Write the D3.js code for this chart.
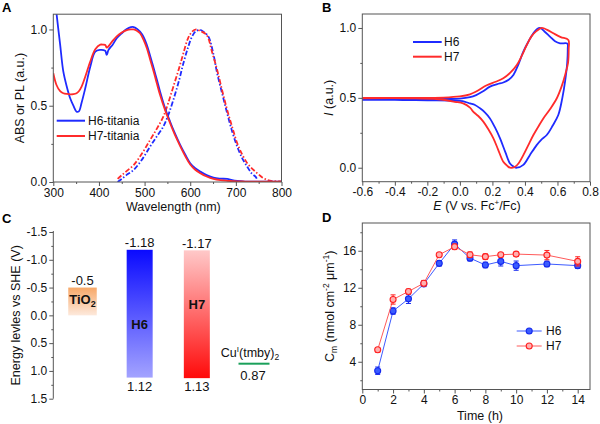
<!DOCTYPE html>
<html><head><meta charset="utf-8">
<script src="https://cdn.jsdelivr.net/npm/d3@7/dist/d3.min.js"></script>
<style>
html,body{margin:0;padding:0;background:#fff;}
svg{display:block;font-family:"Liberation Sans",Arial,sans-serif;}
</style></head>
<body>
<svg id="chart" width="600" height="424"></svg>
<script>
// ---------------- DATA ----------------
// Panel A: absorption (solid) and PL (dash-dot)
const absWl = [300,307,315,322,330,337,344,351,356,362,370,381,392,403,410,414,417,421,430,439,450,461,470,476,483,490,498,505,512,520,527,534,545,556,567,578,589,600,611,622,636,651,666,681,692,703,720,750,800];
const absH6 = [1.3,1.106,0.9,0.723,0.62,0.549,0.5,0.461,0.463,0.52,0.614,0.756,0.854,0.866,0.865,0.859,0.833,0.866,0.9,0.942,0.975,1.003,1.015,1.016,1.005,0.986,0.95,0.898,0.83,0.745,0.67,0.592,0.483,0.395,0.315,0.243,0.18,0.123,0.09,0.068,0.045,0.028,0.022,0.02,0.012,0.007,0.003,0.002,0.002];
const absH7 = [0.713,0.636,0.595,0.582,0.577,0.575,0.576,0.582,0.595,0.625,0.69,0.79,0.87,0.9,0.9,0.898,0.881,0.89,0.925,0.955,0.98,0.995,1.0,1.0,0.992,0.975,0.93,0.877,0.805,0.723,0.645,0.57,0.47,0.385,0.305,0.235,0.17,0.115,0.08,0.058,0.036,0.02,0.012,0.008,0.006,0.004,0.003,0.002,0.002];
const plWlH6 = [441,450,460,476,495,512,527,541,552,563,575,585,595,604,613,622,631,640,650,659,670,681,692,703,714,725,735,743,748];
const plH6   = [0,0.02,0.045,0.079,0.15,0.232,0.3,0.363,0.44,0.538,0.66,0.778,0.88,0.953,0.99,0.997,0.98,0.953,0.85,0.713,0.58,0.45,0.33,0.232,0.155,0.1,0.055,0.035,0.01];
const plWlH7 = [441,450,460,476,495,512,527,541,552,563,575,585,595,604,613,622,636,648,659,670,681,692,703,714,725,735,747,758,769,780,800];
const plH7   = [0.02,0.045,0.07,0.111,0.19,0.275,0.35,0.428,0.52,0.625,0.74,0.844,0.94,0.985,1.0,0.99,0.964,0.85,0.735,0.6,0.472,0.36,0.254,0.18,0.123,0.09,0.057,0.03,0.013,0.006,0.004];
const aLegend = ["H6-titania","H7-titania"];
const aXTicks = [300,400,500,600,700,800];
const aYTicks = [0,0.5,1.0];

// Panel B: cyclic voltammograms (E, I) in scan order
const cvH6E = [-0.6,-0.4,-0.2,0.0,0.062,0.1,0.14,0.185,0.23,0.267,0.3,0.329,0.36,0.39,0.42,0.452,0.475,0.493,0.52,0.554,0.585,0.616,0.661,0.663,0.66,0.647,0.63,0.605,0.57,0.534,0.5,0.472,0.43,0.39,0.35,0.33,0.308,0.28,0.247,0.215,0.185,0.155,0.124,0.093,0.062,0.032,0.0,-0.2,-0.4,-0.6];
const cvH6I = [0.49,0.49,0.492,0.495,0.505,0.52,0.545,0.58,0.598,0.61,0.63,0.664,0.74,0.83,0.9,0.962,0.993,1.0,0.975,0.938,0.905,0.89,0.888,0.85,0.75,0.62,0.5,0.377,0.3,0.234,0.2,0.162,0.09,0.02,0.0,0.008,0.03,0.11,0.21,0.29,0.353,0.395,0.425,0.449,0.46,0.472,0.478,0.483,0.485,0.485];
const cvH7E = [-0.6,-0.3,-0.1,0.0,0.062,0.1,0.165,0.22,0.267,0.31,0.35,0.38,0.411,0.44,0.472,0.503,0.54,0.575,0.62,0.667,0.669,0.665,0.647,0.625,0.596,0.555,0.513,0.48,0.452,0.42,0.39,0.36,0.339,0.308,0.29,0.267,0.235,0.206,0.175,0.144,0.113,0.083,0.062,0.02,-0.03,-0.133,-0.3,-0.6];
const cvH7I = [0.5,0.5,0.502,0.51,0.525,0.545,0.59,0.615,0.64,0.68,0.735,0.8,0.878,0.94,0.979,1.0,0.985,0.962,0.935,0.914,0.85,0.75,0.664,0.58,0.497,0.42,0.353,0.29,0.234,0.16,0.09,0.03,0.007,0.0,0.015,0.043,0.13,0.21,0.275,0.33,0.37,0.40,0.43,0.46,0.472,0.49,0.497,0.497];
const bLegend = ["H6","H7"];
const bXTicks = [-0.6,-0.4,-0.2,0.0,0.2,0.4,0.6,0.8];
const bYTicks = [0,0.5,1.0];

// Panel C: energy levels (V vs SHE)
const cCats   = ["TiO2","H6","H7","Cu"];
const cTop    = [-0.5,-1.18,-1.17];
const cBottom = [0.0,1.12,1.13];
const cuLevel = 0.87;
const cYTicks = [-1.5,-1.0,-0.5,0.0,0.5,1.0,1.5];

// Panel D: dye loading vs time
const dTime = [1,2,3,4,5,6,7,8,9,10,12,14];
const dH6   = [3.03,9.48,10.8,12.42,14.64,16.72,15.2,14.46,14.85,14.39,14.57,14.39];
const dH6e  = [0.4,0.35,0.5,0.3,0.3,0.45,0.3,0.3,0.5,0.5,0.3,0.3];
const dH7   = [5.29,10.73,11.6,12.49,15.57,16.43,15.57,15.36,15.57,15.64,15.53,14.85];
const dH7e  = [0.25,0.5,0.25,0.3,0.2,0.3,0.3,0.3,0.2,0.25,0.5,0.5];
const dXTicks = [0,2,4,6,8,10,12,14];
const dYTicks = [4,8,12,16];

// ---------------- DRAWING ----------------
const svg = d3.select("#chart");
const BLUE = "#1f2bff", RED = "#ff2b2b";
const AX = "#555", TXT = "#111";
const fmt1 = d => (Math.abs(d) < 1e-9 ? 0 : d).toFixed(1);

function drawAxis(g, axisGen, majors, minors, fmt) {
  const a = g.append("g");
  a.call(axisGen.tickValues(minors).tickSize(2).tickFormat(""));
  a.select(".domain").remove();
  a.selectAll("line").attr("stroke", AX);
  const b = g.append("g");
  b.call(axisGen.tickValues(majors).tickSize(4).tickPadding(2).tickFormat(fmt));
  b.select(".domain").remove();
  b.selectAll("line").attr("stroke", AX);
  b.selectAll("text").attr("font-size", 12).attr("fill", TXT).attr("font-family", "Liberation Sans, Arial, sans-serif");
}
function range(a, b, s) { const r = []; for (let v = a; v <= b + 1e-9; v += s) r.push(+v.toFixed(6)); return r; }
function box(x0, x1, y0, y1) {
  svg.append("rect").attr("x", x0).attr("y", y1).attr("width", x1 - x0).attr("height", y0 - y1)
    .attr("fill", "none").attr("stroke", AX).attr("stroke-width", 1);
}
function panelLetter(t, x, y) {
  svg.append("text").attr("x", x).attr("y", y).attr("font-size", 13).attr("font-weight", "bold").attr("fill", "#000").text(t);
}

// ===== Panel A =====
{
  const x = d3.scaleLinear().domain([300, 800]).range([53.3, 281.5]);
  const y = d3.scaleLinear().domain([0, 1.1]).range([182, 14.2]);
  const defs = svg.append("defs");
  defs.append("clipPath").attr("id", "clipA").append("rect")
    .attr("x", x(300)).attr("y", y(1.1)).attr("width", x(800) - x(300)).attr("height", y(0) - y(1.1));
  const g = svg.append("g");
  const line = d3.line().x(d => x(d[0])).y(d => y(d[1])).curve(d3.curveCatmullRom);
  const pg = g.append("g").attr("clip-path", "url(#clipA)");
  const plDash = "5,2,1.5,2";
  pg.append("path").datum(plWlH6.map((w, i) => [w, plH6[i]])).attr("d", line)
    .attr("fill", "none").attr("stroke", BLUE).attr("stroke-width", 1.8).attr("stroke-dasharray", plDash);
  pg.append("path").datum(plWlH7.map((w, i) => [w, plH7[i]])).attr("d", line)
    .attr("fill", "none").attr("stroke", RED).attr("stroke-width", 1.8).attr("stroke-dasharray", plDash);
  pg.append("path").datum(absWl.map((w, i) => [w, absH6[i]])).attr("d", line)
    .attr("fill", "none").attr("stroke", BLUE).attr("stroke-width", 1.8);
  pg.append("path").datum(absWl.map((w, i) => [w, absH7[i]])).attr("d", line)
    .attr("fill", "none").attr("stroke", RED).attr("stroke-width", 1.8);
  box(x(300), x(800), y(0), y(1.1));
  drawAxis(g.append("g").attr("transform", `translate(0,${y(0)})`), d3.axisBottom(x), aXTicks, range(350, 750, 100), d => d);
  drawAxis(g.append("g").attr("transform", `translate(${x(300)},0)`), d3.axisLeft(y), aYTicks, range(0.25, 1.0, 0.5), fmt1);
  svg.append("text").attr("x", (x(300) + x(800)) / 2 + 6).attr("y", 211).attr("text-anchor", "middle")
    .attr("font-size", 12.5).attr("fill", TXT).text("Wavelength (nm)");
  svg.append("text").attr("transform", `translate(24,${(y(0) + y(1.1)) / 2}) rotate(-90)`).attr("text-anchor", "middle")
    .attr("font-size", 12.5).attr("fill", TXT).text("ABS or PL (a.u.)");
  const cols = [BLUE, RED];
  aLegend.forEach((t, i) => {
    const ly = 120.7 + i * 15.3;
    svg.append("line").attr("x1", 56.7).attr("x2", 85).attr("y1", ly).attr("y2", ly).attr("stroke", cols[i]).attr("stroke-width", 2);
    svg.append("text").attr("x", 88).attr("y", ly + 4.3).attr("font-size", 12).attr("fill", TXT).text(t);
  });
  panelLetter("A", 2, 12);
}

// ===== Panel B =====
{
  const x = d3.scaleLinear().domain([-0.6, 0.8]).range([362.3, 590]);
  const y = d3.scaleLinear().domain([-0.1, 1.1]).range([181.7, 14]);
  const g = svg.append("g");
  const line = d3.line().x(d => x(d[0])).y(d => y(d[1])).curve(d3.curveCatmullRom.alpha(0.5));
  g.append("path").datum(cvH6E.map((e, i) => [e, cvH6I[i]])).attr("d", line)
    .attr("fill", "none").attr("stroke", BLUE).attr("stroke-width", 1.8);
  g.append("path").datum(cvH7E.map((e, i) => [e, cvH7I[i]])).attr("d", line)
    .attr("fill", "none").attr("stroke", RED).attr("stroke-width", 1.8);
  box(x(-0.6), x(0.8), y(-0.1), y(1.1));
  drawAxis(g.append("g").attr("transform", `translate(0,${y(-0.1)})`), d3.axisBottom(x), bXTicks, range(-0.5, 0.7, 0.2), fmt1);
  drawAxis(g.append("g").attr("transform", `translate(${x(-0.6)},0)`), d3.axisLeft(y), bYTicks, range(0.25, 1.0, 0.5), fmt1);
  const t = svg.append("text").attr("x", 477).attr("y", 210).attr("text-anchor", "middle").attr("font-size", 12.5).attr("fill", TXT);
  t.append("tspan").attr("font-style", "italic").text("E");
  t.append("tspan").text(" (V vs. Fc");
  t.append("tspan").attr("font-size", 8).attr("dy", -5).text("+");
  t.append("tspan").attr("dy", 5).text("/Fc)");
  const ty = svg.append("text").attr("transform", `translate(333,${(y(-0.1) + y(1.1)) / 2}) rotate(-90)`).attr("text-anchor", "middle")
    .attr("font-size", 12.5).attr("fill", TXT);
  ty.append("tspan").attr("font-style", "italic").text("I");
  ty.append("tspan").text(" (a.u.)");
  const cols = [BLUE, RED];
  bLegend.forEach((s, i) => {
    const ly = 42 + i * 14.7;
    svg.append("line").attr("x1", 413).attr("x2", 441.7).attr("y1", ly).attr("y2", ly).attr("stroke", cols[i]).attr("stroke-width", 2);
    svg.append("text").attr("x", 444).attr("y", ly + 4.3).attr("font-size", 12).attr("fill", TXT).text(s);
  });
  panelLetter("B", 322, 12);
}

// ===== Panel C =====
{
  const y = d3.scaleLinear().domain([-1.5, 1.5]).range([232, 398.7]);
  const xc = d3.scalePoint().domain(cCats).range([82.5, 254]);
  const axisX = 53.3;
  const g = svg.append("g");
  svg.append("line").attr("x1", axisX).attr("x2", axisX).attr("y1", y(-1.5) - 1).attr("y2", y(1.5)).attr("stroke", AX);
  drawAxis(g.append("g").attr("transform", `translate(${axisX},0)`), d3.axisLeft(y), cYTicks, range(-1.25, 1.25, 0.5), fmt1);
  svg.append("text").attr("transform", `translate(20,${(y(-1.5) + y(1.5)) / 2}) rotate(-90)`).attr("text-anchor", "middle")
    .attr("font-size", 12.5).attr("fill", TXT).text("Energy levles vs SHE (V)");
  const defs = svg.append("defs");
  const grads = [["gTi", "#f7a868", "#fde9dc"], ["gH6", "#0a0aff", "#a3a3ff"], ["gH7", "#ffc9c9", "#ff0a0a"]];
  grads.forEach(([id, c0, c1]) => {
    const lg = defs.append("linearGradient").attr("id", id).attr("x1", 0).attr("x2", 0).attr("y1", 0).attr("y2", 1);
    lg.append("stop").attr("offset", "0%").attr("stop-color", c0);
    lg.append("stop").attr("offset", "100%").attr("stop-color", c1);
  });
  const widths = [28.5, 26, 26];
  cTop.forEach((tv, i) => {
    const cx = xc(cCats[i]);
    svg.append("rect").attr("x", cx - widths[i] / 2).attr("width", widths[i])
      .attr("y", y(tv)).attr("height", y(cBottom[i]) - y(tv)).attr("fill", `url(#${grads[i][0]})`);
    svg.append("text").attr("x", cx).attr("y", y(tv) - 2.8).attr("text-anchor", "middle").attr("font-size", 13).attr("fill", TXT)
      .text(tv.toFixed(i === 0 ? 1 : 2));
    if (i > 0) svg.append("text").attr("x", cx).attr("y", y(cBottom[i]) + 13.3).attr("text-anchor", "middle").attr("font-size", 13).attr("fill", TXT)
      .text(cBottom[i].toFixed(2));
  });
  // bar labels
  const ti = svg.append("text").attr("x", xc("TiO2")).attr("y", 304).attr("text-anchor", "middle").attr("font-size", 13).attr("font-weight", "bold").attr("fill", "#111");
  ti.append("tspan").text("TiO");
  ti.append("tspan").attr("font-size", 9).attr("dy", 3).text("2");
  svg.append("text").attr("x", xc("H6")).attr("y", 328.7).attr("text-anchor", "middle").attr("font-size", 13).attr("font-weight", "bold").attr("fill", "#111").text("H6");
  svg.append("text").attr("x", xc("H7")).attr("y", 308.7).attr("text-anchor", "middle").attr("font-size", 13).attr("font-weight", "bold").attr("fill", "#111").text("H7");
  // Cu level
  const cuX = xc("Cu");
  svg.append("line").attr("x1", cuX - 15.5).attr("x2", cuX + 15.5).attr("y1", y(cuLevel)).attr("y2", y(cuLevel))
    .attr("stroke", "#1aa05a").attr("stroke-width", 2);
  const cu = svg.append("text").attr("x", cuX - 4).attr("y", y(cuLevel) - 7).attr("text-anchor", "middle").attr("font-size", 12.5).attr("fill", TXT);
  cu.append("tspan").text("Cu");
  cu.append("tspan").attr("font-size", 8).attr("dy", -5).text("I");
  cu.append("tspan").attr("dy", 5).text("(tmby)");
  cu.append("tspan").attr("font-size", 8.5).attr("dy", 3).text("2");
  svg.append("text").attr("x", cuX - 1).attr("y", y(cuLevel) + 16).attr("text-anchor", "middle").attr("font-size", 13).attr("fill", TXT).text(cuLevel.toFixed(2));
  panelLetter("C", 2, 223);
}

// ===== Panel D =====
{
  const x = d3.scaleLinear().domain([0, 14.8]).range([362.3, 590]);
  const y = d3.scaleLinear().domain([1, 19]).range([389.5, 223]);
  const g = svg.append("g");
  box(x(0), x(14.8), y(1), y(19));
  drawAxis(g.append("g").attr("transform", `translate(0,${y(1)})`), d3.axisBottom(x), dXTicks, range(1, 13, 2), d => d);
  drawAxis(g.append("g").attr("transform", `translate(${x(0)},0)`), d3.axisLeft(y), dYTicks, [2, 6, 10, 14, 18], d => d);
  svg.append("text").attr("x", 480).attr("y", 419.5).attr("text-anchor", "middle").attr("font-size", 12.5).attr("fill", TXT).text("Time (h)");
  const ty = svg.append("text").attr("transform", `translate(334,${(y(1) + y(19)) / 2}) rotate(-90)`).attr("text-anchor", "middle")
    .attr("font-size", 12.5).attr("fill", TXT);
  ty.append("tspan").text("C");
  ty.append("tspan").attr("font-size", 8.5).attr("dy", 3).text("m");
  ty.append("tspan").attr("dy", -3).text(" (nmol cm");
  ty.append("tspan").attr("font-size", 8.5).attr("dy", -5).text("-2");
  ty.append("tspan").attr("dy", 5).text(" \u03BCm");
  ty.append("tspan").attr("font-size", 8.5).attr("dy", -5).text("-1");
  ty.append("tspan").attr("dy", 5).text(")");
  const series = [
    { v: dH6, e: dH6e, line: "#3d5bff", stroke: "#1428ee", fill: "#3a5cff" },
    { v: dH7, e: dH7e, line: "#ff5a5a", stroke: "#ff2020", fill: "#ffb0b0" }
  ];
  const ln = d3.line().x(d => x(d[0])).y(d => y(d[1]));
  series.forEach(s => {
    const pts = dTime.map((t, i) => [t, s.v[i], s.e[i]]);
    g.append("path").datum(pts).attr("d", ln).attr("fill", "none").attr("stroke", s.line).attr("stroke-width", 1);
    pts.forEach(p => {
      g.append("line").attr("x1", x(p[0])).attr("x2", x(p[0])).attr("y1", y(p[1] - p[2])).attr("y2", y(p[1] + p[2])).attr("stroke", s.stroke).attr("stroke-width", 1);
      [p[1] - p[2], p[1] + p[2]].forEach(v => g.append("line").attr("x1", x(p[0]) - 2.5).attr("x2", x(p[0]) + 2.5).attr("y1", y(v)).attr("y2", y(v)).attr("stroke", s.stroke).attr("stroke-width", 1));
      g.append("circle").attr("cx", x(p[0])).attr("cy", y(p[1])).attr("r", 3).attr("fill", s.fill).attr("stroke", s.stroke).attr("stroke-width", 1.1);
    });
  });
  bLegend.forEach((t, i) => {
    const s = series[i];
    const ly = 331 + i * 15;
    svg.append("line").attr("x1", 516.7).attr("x2", 541.7).attr("y1", ly).attr("y2", ly).attr("stroke", s.line).attr("stroke-width", 1);
    svg.append("circle").attr("cx", 529.2).attr("cy", ly).attr("r", 3).attr("fill", s.fill).attr("stroke", s.stroke).attr("stroke-width", 1.1);
    svg.append("text").attr("x", 546).attr("y", ly + 4.3).attr("font-size", 12).attr("fill", TXT).text(t);
  });
  panelLetter("D", 322, 222);
}
</script>
</body></html>
